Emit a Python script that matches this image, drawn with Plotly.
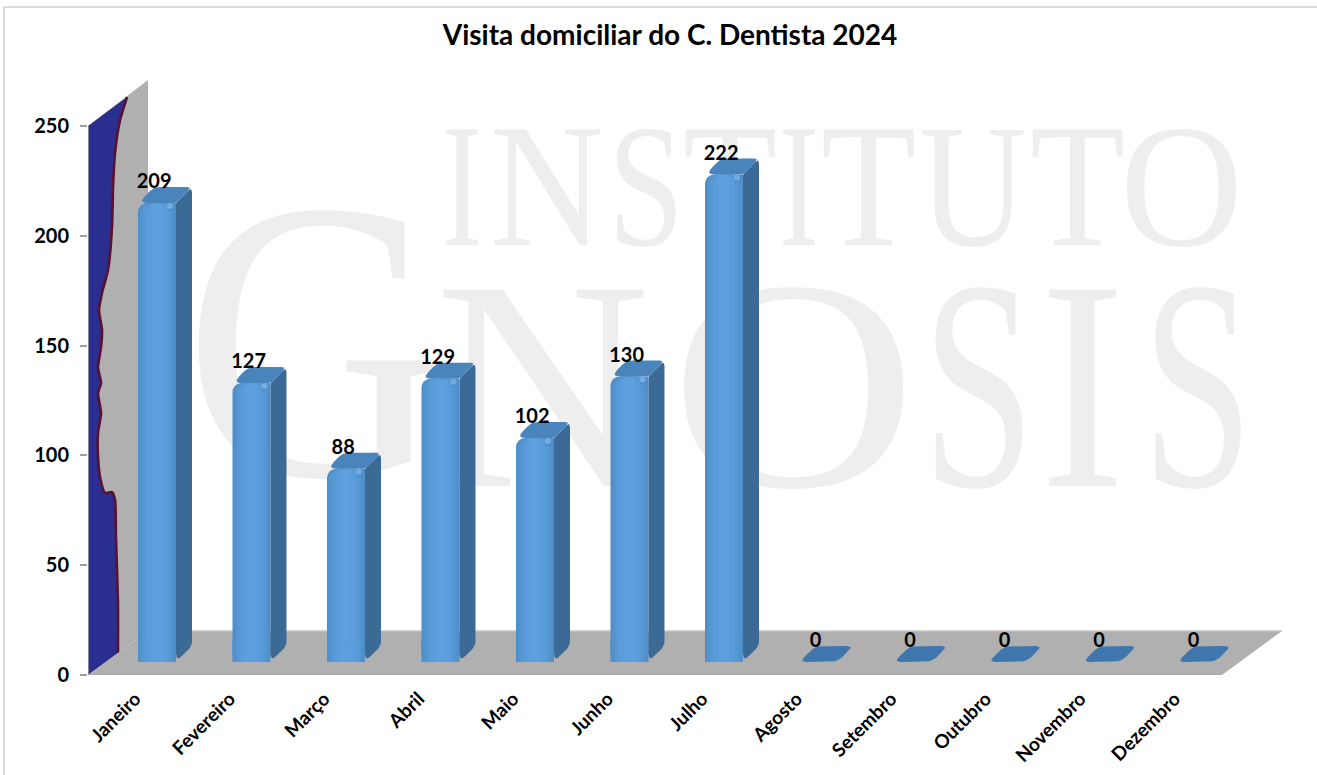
import json
import plotly.graph_objects as go

# ---------- data ----------
months = ["Janeiro", "Fevereiro", "Março", "Abril", "Maio", "Junho", "Julho",
          "Agosto", "Setembro", "Outubro", "Novembro", "Dezembro"]
visits = [209, 127, 88, 129, 102, 130, 222, 0, 0, 0, 0, 0]
y_ticks = [0, 50, 100, 150, 200, 250]
title_text = "Visita domiciliar do C. Dentista 2024"

# curve painted on the left wall: depth along the wall (category units), value height
wall_depth = [.413, .339, .286, .265, .254, .212, .148, .116, .148, .138, .106, .116,
              .138, .106, .138, .106, .106, .127, .18, .254, .286, .296, .317, .317]
wall_value = [263.2, 252.7, 237.7, 222.2, 204, 184.4, 174, 166.2, 157.1, 149.4, 140.3, 137.5,
              133, 128.4, 119.3, 110.2, 99.3, 90.2, 82.9, 83.3, 79.7, 62.8, 32.8, 10]

# watermark letters
wm_text = list("INSTITUTO") + list("GNOSIS")
wm_left = [442, 490, 608, 683, 779, 821, 919, 1030, 1120, 184, 435, 670, 922, 1040, 1142]
wm_right = [482, 604, 684, 777, 819, 916, 1027, 1125, 1243, 445, 650, 917, 1035, 1125, 1253]
wm_mid = [201] * 9 + [375] + [411] * 5
wm_size = [176] * 9 + [400] + [300] * 5

# ---------- geometry of the pseudo-3D plot ----------
W, H = 1317, 775
L, R_END, Y0, Y_TOP = 88, 1282, 675, 80
SX = 94.5       # px per category
SY = 2.196      # px per value unit
X_MIN = -0.5
X_MAX = X_MIN + (R_END - L) / SX
Y_MAX = (Y0 - Y_TOP) / SY
WALL_DX = 60 / SX
WALL_DY = 44 / SY
BAR_BASE = 13 / SY
BAR_SHIFT = 0.23
BAR_W = 38 / SX
DX = 16 / SX
DY = 16 / SY
N = len(months)


def px_x(p):
    return (p - L) / SX + X_MIN


def px_y(p):
    return (Y0 - p) / SY


def rounded(poly, radii):
    """Round the polygon corners; radii in px, one per corner."""
    out_x, out_y = [], []
    n = len(poly)
    for k in range(n):
        p0, p1, p2 = poly[k - 1], poly[k], poly[(k + 1) % n]
        r = radii[k]
        v1 = ((p0[0] - p1[0]) * SX, (p0[1] - p1[1]) * SY)
        v2 = ((p2[0] - p1[0]) * SX, (p2[1] - p1[1]) * SY)
        l1 = (v1[0] ** 2 + v1[1] ** 2) ** .5
        l2 = (v2[0] ** 2 + v2[1] ** 2) ** .5
        a = (p1[0] + v1[0] / l1 * r / SX, p1[1] + v1[1] / l1 * r / SY)
        b = (p1[0] + v2[0] / l2 * r / SX, p1[1] + v2[1] / l2 * r / SY)
        for j in range(7):
            t = j / 6
            out_x.append((1 - t) ** 2 * a[0] + 2 * t * (1 - t) * p1[0] + t ** 2 * b[0])
            out_y.append((1 - t) ** 2 * a[1] + 2 * t * (1 - t) * p1[1] + t ** 2 * b[1])
    return out_x + [out_x[0], None], out_y + [out_y[0], None]


fig = go.Figure()
GRAY = "#B0B0B0"

# ---------- background: watermark, wall, floor ----------
fig.add_trace(go.Scatter(
    x=[px_x((a + b) / 2) for a, b in zip(wm_left, wm_right)],
    y=[px_y(m) for m in wm_mid],
    text=wm_text, mode="text", textposition="middle center",
    textfont=dict(family="Liberation Serif", size=wm_size, color="#EEEEEE"),
    hoverinfo="skip", showlegend=False))

fig.add_trace(go.Scatter(
    x=[X_MIN, X_MIN, X_MIN + WALL_DX, X_MIN + WALL_DX, X_MIN],
    y=[0, 250, Y_MAX, WALL_DY, 0],
    mode="lines", fill="toself", fillcolor=GRAY, line=dict(width=0),
    hoverinfo="skip", showlegend=False))

fig.add_trace(go.Scatter(
    x=[X_MIN, X_MIN + wall_depth[0]] + [X_MIN + d for d in wall_depth[1:]] + [X_MIN, X_MIN],
    y=[250, wall_value[0]] + wall_value[1:] + [0, 250],
    mode="lines", fill="toself", fillcolor="#2A2E8E", line=dict(width=0),
    hoverinfo="skip", showlegend=False))

fig.add_trace(go.Scatter(
    x=[X_MIN + d for d in wall_depth], y=wall_value,
    mode="lines", line=dict(color="#5A1030", width=2.6, shape="spline", smoothing=0.6),
    hoverinfo="skip", showlegend=False))

floor_x = [X_MIN, X_MIN + N, X_MAX, X_MIN + WALL_DX, X_MIN]
floor_y = [0, 0, WALL_DY, WALL_DY, 0]
fig.add_trace(go.Scatter(
    x=floor_x, y=floor_y, mode="lines", fill="toself", fillcolor=GRAY, line=dict(width=0),
    hoverinfo="skip", showlegend=False))
fig.add_trace(go.Scatter(
    x=[X_MIN, X_MIN + N], y=[-0.4, -0.4], mode="lines", cliponaxis=False,
    line=dict(color="#A3A3A3", width=3), hoverinfo="skip", showlegend=False))
fig.add_trace(go.Scatter(
    x=[X_MIN + WALL_DX, X_MAX], y=[WALL_DY, WALL_DY], mode="lines",
    line=dict(color="#C6C6C6", width=1.5), hoverinfo="skip", showlegend=False))
fig.add_trace(go.Scatter(
    x=[X_MIN, X_MIN], y=[0, 250], mode="lines", cliponaxis=False,
    line=dict(color="#A0A0A0", width=1.5), hoverinfo="skip", showlegend=False))

# ---------- bars: front faces as nested bars for a soft cylinder shading ----------
bar_x = [i + BAR_SHIFT for i in range(N)]
shades = [(1.0, "#4E8EC9"), (0.9, "#5293CE"), (0.76, "#5698D4"), (0.55, "#5B9DDA"), (0.3, "#5E9FDD")]
for frac, col in shades:
    fig.add_trace(go.Bar(
        x=bar_x, y=visits, base=[BAR_BASE] * N, width=BAR_W * frac,
        marker=dict(color=col, line=dict(width=0), cornerradius=9),
        xaxis="x2", yaxis="y2", hoverinfo="skip", showlegend=False))
    # square foot of each bar, where it stands on the floor
    fig.add_trace(go.Bar(
        x=bar_x, y=[min(v, 10) for v in visits], base=[BAR_BASE] * N, width=BAR_W * frac,
        marker=dict(color=col, line=dict(width=0)),
        xaxis="x2", yaxis="y2", hoverinfo="skip", showlegend=False))

# ---------- side and top faces from the same values ----------
side_x, side_y, top_x, top_y, flat_x, flat_y = [], [], [], [], [], []
spot_x, spot_y, fill_x, fill_y = [], [], [], []
for i, v in enumerate(visits):
    left = bar_x[i] - BAR_W / 2
    right = bar_x[i] + BAR_W / 2
    low = BAR_BASE
    top = BAR_BASE + v
    top_poly = [(left, top), (right, top), (right + DX, top + DY), (left + DX, top + DY)]
    if v > 0:
        sx, sy = rounded([(right, low), (right + DX, low + DY), (right + DX, top + DY), (right, top)],
                         [9, 5, 5, 1])
        side_x += sx
        side_y += sy
        tx, ty = rounded(top_poly, [10, 2, 5, 6])
        top_x += tx
        top_y += ty
        fill_x.append(right - 4 / SX)
        fill_y.append(top - 4 / SY)
        spot_x.append(right - 6 / SX)
        spot_y.append(top - 3 / SY)
    else:
        tx, ty = rounded(top_poly, [7, 8, 7, 7])
        flat_x += tx
        flat_y += ty

fig.add_trace(go.Scatter(x=side_x, y=side_y, mode="lines", fill="toself", fillcolor="#3C6A96",
                         line=dict(width=0), xaxis="x2", yaxis="y2",
                         hoverinfo="skip", showlegend=False))
fig.add_trace(go.Scatter(x=top_x, y=top_y, mode="lines", fill="toself", fillcolor="#4A84BC",
                         line=dict(width=0), xaxis="x2", yaxis="y2",
                         hoverinfo="skip", showlegend=False))
fig.add_trace(go.Scatter(x=flat_x, y=flat_y, mode="lines", fill="toself", fillcolor="#3F76AD",
                         line=dict(width=0), xaxis="x2", yaxis="y2",
                         hoverinfo="skip", showlegend=False))
fig.add_trace(go.Scatter(x=fill_x, y=fill_y, mode="markers",
                         marker=dict(size=8, symbol="square", color="#4E8EC9", line=dict(width=0)),
                         xaxis="x2", yaxis="y2", hoverinfo="skip", showlegend=False))
fig.add_trace(go.Scatter(x=spot_x, y=spot_y, mode="markers",
                         marker=dict(size=6, color="#74ACE2", line=dict(width=0)),
                         xaxis="x2", yaxis="y2", hoverinfo="skip", showlegend=False))

# ---------- value labels ----------
fig.add_trace(go.Scatter(
    x=[x - 0.03 for x in bar_x], y=[v + BAR_BASE + 9 for v in visits],
    text=[str(v) for v in visits], mode="text", textposition="middle center",
    textfont=dict(family="Lato", size=20, color="#000000", weight=700),
    xaxis="x2", yaxis="y2", hoverinfo="skip", showlegend=False))

# ---------- layout ----------
x_tick_font = dict(family="Lato", size=19, color="#000000", weight=700)
y_tick_font = dict(family="Lato", size=20, color="#000000", weight=700)
fig.update_layout(
    width=W, height=H,
    margin=dict(l=L, r=W - R_END, t=Y_TOP, b=H - Y0, pad=0, autoexpand=False),
    paper_bgcolor="#FFFFFF", plot_bgcolor="rgba(0,0,0,0)",
    barmode="overlay", showlegend=False,
    title=dict(text=title_text, x=670 / W, xanchor="center", xref="container",
               y=1 - 35 / H, yanchor="middle", yref="container",
               font=dict(family="Lato", size=28, color="#000000", weight=700)),
    xaxis=dict(range=[X_MIN, X_MAX], tickmode="array", tickvals=list(range(N)), ticktext=months,
               tickangle=-45, tickfont=x_tick_font, ticks="", ticklabelstandoff=8, showgrid=False,
               zeroline=False, showline=False, fixedrange=True, automargin=False),
    yaxis=dict(range=[0, Y_MAX], tickmode="array", tickvals=y_ticks, ticks="outside", ticklen=7,
               tickwidth=1.5, tickcolor="#A0A0A0", tickfont=y_tick_font, ticklabelstandoff=7,
               showgrid=False, zeroline=False, showline=False, fixedrange=True, automargin=False),
    xaxis2=dict(range=[X_MIN, X_MAX], overlaying="x", visible=False, fixedrange=True),
    yaxis2=dict(range=[0, Y_MAX], overlaying="y", visible=False, fixedrange=True),
    shapes=[
        dict(type="line", xref="paper", yref="paper", x0=(4 - L) / (R_END - L), x1=(W - L) / (R_END - L),
             y0=(Y0 - 7) / (Y0 - Y_TOP), y1=(Y0 - 7) / (Y0 - Y_TOP), line=dict(color="#CFCFCF", width=1.5)),
        dict(type="line", xref="paper", yref="paper", x0=(4 - L) / (R_END - L), x1=(4 - L) / (R_END - L),
             y0=(Y0 - 7) / (Y0 - Y_TOP), y1=(Y0 - H) / (Y0 - Y_TOP), line=dict(color="#CFCFCF", width=1.5)),
    ],
)

post = """
document.body.style.margin='0';
var gd=document.getElementById('{plot_id}');
var widths=%s;
var nodes=gd.querySelectorAll('.scatterlayer .trace:first-child .textpoint text');
nodes.forEach(function(n,i){
  if(i<widths.length){n.setAttribute('textLength',widths[i]);n.setAttribute('lengthAdjust','spacingAndGlyphs');}
});
""" % json.dumps([b - a for a, b in zip(wm_left, wm_right)])

fig.write_html("out.html", config=dict(displayModeBar=False), post_script=post)
